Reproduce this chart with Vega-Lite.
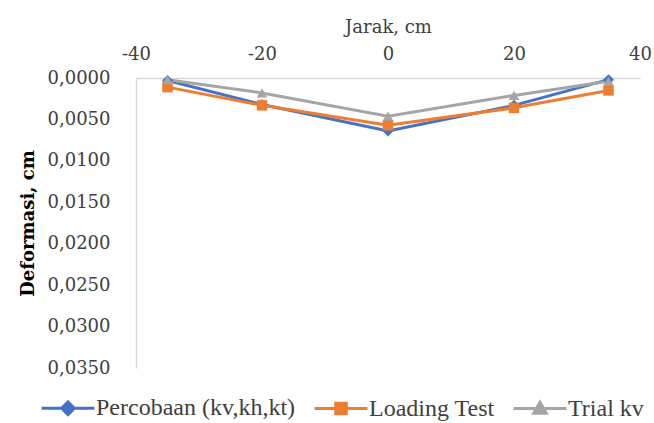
{
  "$schema": "https://vega.github.io/schema/vega-lite/v6.json",
  "autosize": "none",
  "width": 504,
  "height": 290,
  "padding": {"left": 136, "top": 78, "right": 14, "bottom": 55},
  "background": "white",
  "config": {"view": {"stroke": null}, "font": "DejaVu Serif",
    "legend": {"labelFont": "Liberation Serif", "labelFontSize": 24, "labelColor": "#404040"}},
  "data": {"values": [
    {"series": "Percobaan (kv,kh,kt)", "jarak": -35, "def": 0.0003},
    {"series": "Percobaan (kv,kh,kt)", "jarak": -20, "def": 0.0032},
    {"series": "Percobaan (kv,kh,kt)", "jarak": 0, "def": 0.0064},
    {"series": "Percobaan (kv,kh,kt)", "jarak": 20, "def": 0.0033},
    {"series": "Percobaan (kv,kh,kt)", "jarak": 35, "def": 0.0002},
    {"series": "Loading Test", "jarak": -35, "def": 0.0011},
    {"series": "Loading Test", "jarak": -20, "def": 0.0033},
    {"series": "Loading Test", "jarak": 0, "def": 0.0057},
    {"series": "Loading Test", "jarak": 20, "def": 0.0036},
    {"series": "Loading Test", "jarak": 35, "def": 0.0015},
    {"series": "Trial kv", "jarak": -35, "def": 0.0002},
    {"series": "Trial kv", "jarak": -20, "def": 0.0018},
    {"series": "Trial kv", "jarak": 0, "def": 0.0046},
    {"series": "Trial kv", "jarak": 20, "def": 0.0021},
    {"series": "Trial kv", "jarak": 35, "def": 0.0004}
  ]},
  "encoding": {
    "x": {"field": "jarak", "type": "quantitative",
      "scale": {"domain": [-40, 40], "nice": false},
      "axis": {"orient": "top", "title": "Jarak, cm", "values": [-40, -20, 0, 20, 40],
        "labelExpr": "datum.value < 0 ? '-' + abs(datum.value) : '' + datum.value",
        "labelFlush": false,
        "ticks": false, "grid": false, "domainColor": "#d9d9d9", "domainWidth": 1.5,
        "labelFont": "DejaVu Serif", "labelFontSize": 18, "labelColor": "#404040", "labelPadding": 15,
        "titleFont": "DejaVu Serif", "titleFontSize": 18, "titleFontWeight": "normal", "titleColor": "#404040", "titlePadding": 9}},
    "y": {"field": "def", "type": "quantitative",
      "scale": {"domain": [0, 0.035], "reverse": true, "nice": false},
      "axis": {"title": "Deformasi, cm", "values": [0, 0.005, 0.01, 0.015, 0.02, 0.025, 0.03, 0.035],
        "labelExpr": "replace(format(datum.value, '.4f'), '.', ',')",
        "labelFlush": false,
        "ticks": false, "grid": false, "domainColor": "#d9d9d9", "domainWidth": 1.5,
        "labelFont": "DejaVu Serif", "labelFontSize": 18, "labelColor": "#404040", "labelPadding": 26,
        "titleFont": "DejaVu Serif", "titleFontSize": 18, "titleFontWeight": "bold", "titleColor": "#000000", "titlePadding": 10}}
  },
  "layer": [
    {"mark": {"type": "line", "strokeWidth": 3},
     "encoding": {"color": {"field": "series", "type": "nominal",
       "scale": {"domain": ["Percobaan (kv,kh,kt)", "Loading Test", "Trial kv"], "range": ["#4472C4", "#ED7D31", "#A5A5A5"]},
       "legend": {"orient": "none", "legendX": -80, "legendY": 318, "direction": "horizontal", "title": null,
         "symbolSize": 112, "symbolStrokeWidth": 3, "labelFont": "Liberation Serif", "labelFontSize": 24,
         "labelColor": "#404040", "labelOffset": 16, "columnPadding": 12, "labelLimit": 400,
         "encode": {
           "labels": {"update": {"font": {"value": "Liberation Serif"}, "fontSize": {"value": 24}}},
           "symbols": {"update": {
           "shape": {"signal": "datum.value === 'Loading Test' ? 'M-5,0H5M-1,-1H1V1H-1Z' : datum.value === 'Trial kv' ? 'M-5,0H5M0,-1.2L1.2,0.9H-1.2Z' : 'M-5,0H5M0,-1.2L1.2,0L0,1.2L-1.2,0Z'"},
           "fill": {"scale": "color", "field": "value"},
           "stroke": {"scale": "color", "field": "value"},
           "strokeWidth": {"value": 3},
           "opacity": {"value": 1}}}}}}}},
    {"transform": [{"filter": "datum.series === 'Percobaan (kv,kh,kt)'"}],
     "mark": {"type": "point", "filled": true, "opacity": 1, "shape": "diamond", "size": 120, "color": "#4472C4"}},
    {"transform": [{"filter": "datum.series === 'Loading Test'"}],
     "mark": {"type": "point", "filled": true, "opacity": 1, "shape": "square", "size": 110, "color": "#ED7D31"}},
    {"transform": [{"filter": "datum.series === 'Trial kv'"}],
     "mark": {"type": "point", "filled": true, "opacity": 1, "shape": "triangle-up", "size": 110, "color": "#A5A5A5"}}
  ]
}
